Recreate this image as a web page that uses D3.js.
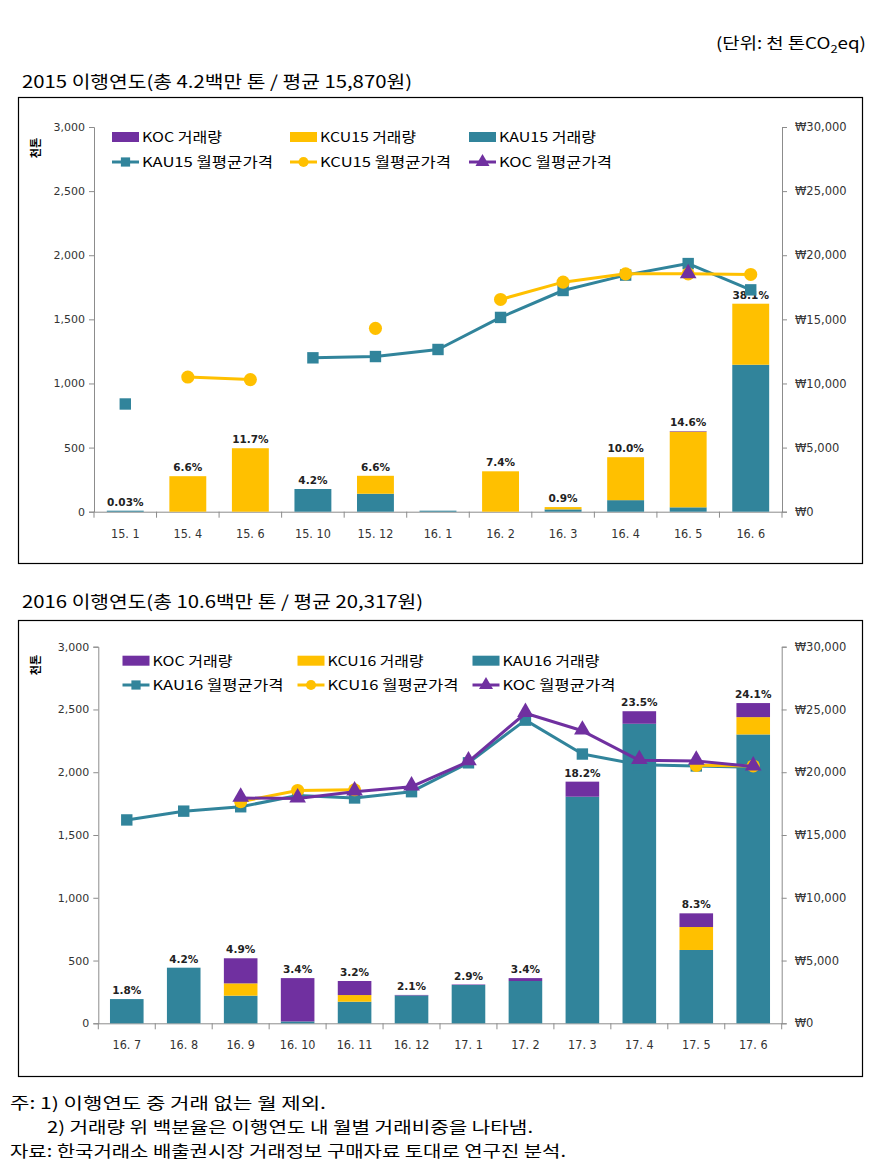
<!DOCTYPE html>
<html><head><meta charset="utf-8">
<script src="https://cdn.jsdelivr.net/npm/d3@7"></script>
<style>
body{margin:0;background:#fff;}
svg{display:block;}
</style></head>
<body>
<svg id="c" width="875" height="1170"></svg>
<script>
// ---------- DATA ----------
const unitText = ["(단위: 천 톤CO", "2", "eq)"];
const title15 = "2015 이행연도(총 4.2백만 톤 / 평균 15,870원)";
const title16 = "2016 이행연도(총 10.6백만 톤 / 평균 20,317원)";
const yLabel = "천톤";
const volTicks = [0,500,1000,1500,2000,2500,3000];
const priceTicks = [0,5000,10000,15000,20000,25000,30000];

const cats15 = ["15. 1","15. 4","15. 6","15. 10","15. 12","16. 1","16. 2","16. 3","16. 4","16. 5","16. 6"];
const kau15Vol = [8,0,0,177,140,8,0,18,90,34,1146];
const kcu15Vol = [0,277,495,0,140,0,315,18,335,590,476];
const koc15Vol = [0,0,0,0,0,0,0,0,0,4,0];
const share15 = ["0.03%","6.6%","11.7%","4.2%","6.6%",null,"7.4%","0.9%","10.0%","14.6%","38.1%"];
const kau15Price = [8400,null,null,12000,12100,12650,15150,17250,18450,19350,17300];
const kcu15Price = [null,10500,10300,null,14300,null,16550,17900,18550,18550,18500];
const koc15Price = [null,null,null,null,null,null,null,null,null,18500,null];
const legend15 = ["KOC 거래량","KCU15 거래량","KAU15 거래량","KAU15 월평균가격","KCU15 월평균가격","KOC 월평균가격"];

const cats16 = ["16. 7","16. 8","16. 9","16. 10","16. 11","16. 12","17. 1","17. 2","17. 3","17. 4","17. 5","17. 6"];
const kau16Vol = [193,443,220,15,172,222,305,337,1805,2386,584,2301];
const kcu16Vol = [0,0,98,0,53,0,0,0,0,0,183,138];
const koc16Vol = [0,0,200,345,112,4,4,23,120,100,109,112];
const share16 = ["1.8%","4.2%","4.9%","3.4%","3.2%","2.1%","2.9%","3.4%","18.2%","23.5%","8.3%","24.1%"];
const kau16Price = [16200,16900,17250,18150,17950,18450,20750,24150,21450,20600,20500,20400];
const kcu16Price = [null,null,17650,18550,18600,null,null,null,null,null,20550,20500];
const koc16Price = [null,null,17950,17900,18450,18850,20850,24700,23300,20950,20900,20450];
const legend16 = ["KOC 거래량","KCU16 거래량","KAU16 거래량","KAU16 월평균가격","KCU16 월평균가격","KOC 월평균가격"];

const notes = ["주: 1) 이행연도 중 거래 없는 월 제외.",
               "2) 거래량 위 백분율은 이행연도 내 월별 거래비중을 나타냄.",
               "자료: 한국거래소 배출권시장 거래정보 구매자료 토대로 연구진 분석."];

// ---------- STYLE ----------
const C_KAU = "#31849B", C_KCU = "#FFC000", C_KOC = "#7030A0";
const FONT_KR = "'Noto Sans CJK KR','Noto Sans',sans-serif";
const FONT_NUM = "'DejaVu Sans',sans-serif";
const FONT_COND = "'DejaVu Sans Condensed','DejaVu Sans',sans-serif";
const AXIS_C = "#8c8c8c";

const svg = d3.select("#c");
svg.append("rect").attr("width",875).attr("height",1170).attr("fill","#fff");

// unit text
const ut = svg.append("text").attr("x",716).attr("y",49)
  .attr("font-family",FONT_KR).attr("font-size",16).attr("fill","#000")
  .attr("textLength",150).attr("lengthAdjust","spacingAndGlyphs");
ut.append("tspan").text(unitText[0]);
ut.append("tspan").attr("font-size",11).attr("dy",4).text(unitText[1]);
ut.append("tspan").attr("dy",-4).text(unitText[2]);

function drawChart(cfg){
  const g = svg.append("g");
  // title
  g.append("text").attr("x",22).attr("y",cfg.titleY)
    .attr("font-family",FONT_KR).attr("font-size",17).attr("fill","#000")
    .attr("textLength",cfg.titleLen).attr("lengthAdjust","spacingAndGlyphs")
    .text(cfg.title);
  // box
  g.append("rect").attr("x",18.5).attr("y",cfg.boxTop+0.5).attr("width",844)
    .attr("height",cfg.boxBottom-cfg.boxTop).attr("fill","none").attr("stroke","#000").attr("stroke-width",1.2);

  const x = d3.scaleBand().domain(cfg.cats).range([cfg.left,cfg.right])
    .paddingInner(0.41).paddingOuter(0.205);
  const yV = d3.scaleLinear().domain([0,3000]).range([cfg.bottom,cfg.top]);
  const yP = d3.scaleLinear().domain([0,30000]).range([cfg.bottom,cfg.top]);

  // axes
  const axL = g.append("g").attr("transform",`translate(${cfg.left},0)`)
    .call(d3.axisLeft(yV).tickValues(volTicks).tickFormat(d3.format(",")).tickSize(5).tickPadding(4));
  const axR = g.append("g").attr("transform",`translate(${cfg.right},0)`)
    .call(d3.axisRight(yP).tickValues(priceTicks).tickFormat(d=>"₩"+d3.format(",")(d)).tickSize(5).tickPadding(8));
  const axB = g.append("g").attr("transform",`translate(0,${cfg.bottom})`)
    .call(d3.axisBottom(x).tickSize(0).tickPadding(17));
  [axL,axR,axB].forEach(a=>{
    a.selectAll("path,line").attr("stroke",AXIS_C);
    a.selectAll("text").attr("fill","#333");
  });
  axL.selectAll("text").attr("font-family",FONT_NUM).attr("font-size",11);
  axR.selectAll("text").attr("font-family",FONT_NUM).attr("font-size",11.5);
  axB.selectAll("text").attr("font-family",FONT_COND).attr("font-size",12.5);
  // boundary ticks on x axis
  const step = x.step();
  const bounds = d3.range(cfg.cats.length+1).map(i=>x(cfg.cats[0]) - x.paddingOuter()*step + i*step);
  g.append("g").selectAll("line").data(bounds).join("line")
    .attr("x1",d=>d).attr("x2",d=>d).attr("y1",cfg.bottom).attr("y2",cfg.bottom+6)
    .attr("stroke",AXIS_C);

  // y label
  g.append("text").attr("transform",`translate(${cfg.yLabX},${cfg.yLabY}) rotate(-90)`)
    .attr("text-anchor","middle").attr("font-family",FONT_KR).attr("font-size",11).attr("font-weight","bold")
    .attr("fill","#000").text(yLabel);

  // stacked bars
  const rows = cfg.cats.map((c,i)=>({cat:c,KAU:cfg.kau[i],KCU:cfg.kcu[i],KOC:cfg.koc[i],share:cfg.share[i]}));
  const stack = d3.stack().keys(["KAU","KCU","KOC"])(rows);
  const colors = {KAU:C_KAU,KCU:C_KCU,KOC:C_KOC};
  g.append("g").selectAll("g").data(stack).join("g").attr("fill",d=>colors[d.key])
    .selectAll("rect").data(d=>d).join("rect")
    .attr("x",d=>x(d.data.cat)).attr("width",x.bandwidth())
    .attr("y",d=>yV(d[1])).attr("height",d=>Math.max(0,yV(d[0])-yV(d[1])));

  // share labels
  g.append("g").selectAll("text").data(rows.filter(r=>r.share)).join("text")
    .attr("x",d=>x(d.cat)+x.bandwidth()/2)
    .attr("y",d=>yV(d.KAU+d.KCU+d.KOC)-5)
    .attr("text-anchor","middle").attr("font-family",FONT_NUM).attr("font-weight","bold")
    .attr("font-size",10.5).attr("fill","#222").text(d=>d.share);

  // lines
  const cx = i=>x(cfg.cats[i])+x.bandwidth()/2;
  const line = d3.line().defined(d=>d.v!=null).x(d=>cx(d.i)).y(d=>yP(d.v));
  const series = [
    {vals:cfg.kauP,color:C_KAU,m:"square"},
    {vals:cfg.kcuP,color:C_KCU,m:"circle"},
    {vals:cfg.kocP,color:C_KOC,m:"triangle"}
  ];
  series.forEach(s=>{
    const pts = s.vals.map((v,i)=>({v,i}));
    g.append("path").datum(pts).attr("d",line).attr("fill","none")
      .attr("stroke",s.color).attr("stroke-width",3).attr("stroke-linejoin","round");
    const sym = s.m==="square"?d3.symbolSquare:(s.m==="circle"?d3.symbolCircle:d3.symbolTriangle);
    const size = s.m==="square"?130:(s.m==="circle"?135:120);
    g.append("g").selectAll("path").data(pts.filter(p=>p.v!=null)).join("path")
      .attr("transform",p=>`translate(${cx(p.i)},${yP(p.v)+(s.m==="triangle"?-1:0)})`)
      .attr("d",d3.symbol().type(sym).size(size)).attr("fill",s.color);
  });

  // legend
  const L = cfg.legend;
  const lg = g.append("g").attr("font-family",FONT_KR).attr("font-size",13.5).attr("fill","#000");
  const rowY = cfg.legY;
  const colsX = cfg.legX;
  const swatchCols = [C_KOC,C_KCU,C_KAU];
  for(let k=0;k<3;k++){
    lg.append("rect").attr("x",colsX[k]).attr("y",rowY[0]-5).attr("width",27).attr("height",10).attr("fill",swatchCols[k]);
    lg.append("text").attr("x",colsX[k]+30).attr("y",rowY[0]+5).attr("textLength",cfg.legLen[k])
      .attr("lengthAdjust","spacingAndGlyphs").text(L[k]);
  }
  const lineCols = [C_KAU,C_KCU,C_KOC];
  const lineSyms = [d3.symbolSquare,d3.symbolCircle,d3.symbolTriangle];
  for(let k=0;k<3;k++){
    lg.append("line").attr("x1",colsX[k]).attr("x2",colsX[k]+27).attr("y1",rowY[1]).attr("y2",rowY[1])
      .attr("stroke",lineCols[k]).attr("stroke-width",3);
    lg.append("path").attr("transform",`translate(${colsX[k]+13.5},${rowY[1]})`)
      .attr("d",d3.symbol().type(lineSyms[k]).size(k===1?80:85)).attr("fill",lineCols[k]);
    lg.append("text").attr("x",colsX[k]+30).attr("y",rowY[1]+5).attr("textLength",cfg.legLen[k+3])
      .attr("lengthAdjust","spacingAndGlyphs").text(L[k+3]);
  }
}

drawChart({
  title:title15, titleY:88, titleLen:390, boxTop:97, boxBottom:563,
  left:94, right:782, top:127, bottom:511.7, yLabX:40, yLabY:148,
  cats:cats15, kau:kau15Vol, kcu:kcu15Vol, koc:koc15Vol, share:share15,
  kauP:kau15Price, kcuP:kcu15Price, kocP:koc15Price,
  legend:legend15, legY:[137,162], legX:[112,290,469], legLen:[80,96,97,131,131,113]
});
drawChart({
  title:title16, titleY:608, titleLen:401, boxTop:620, boxBottom:1076,
  left:98.3, right:781.7, top:646.7, bottom:1023.3, yLabX:40, yLabY:665,
  cats:cats16, kau:kau16Vol, kcu:kcu16Vol, koc:koc16Vol, share:share16,
  kauP:kau16Price, kcuP:kcu16Price, kocP:koc16Price,
  legend:legend16, legY:[660.7,685], legX:[122.5,297.5,472.5], legLen:[80,96,97,131,131,113]
});

// notes
const noteX = [10,47,10], noteY = [1109,1133,1157], noteLen = [316,486,556];
svg.append("g").selectAll("text").data(notes).join("text")
  .attr("x",(d,i)=>noteX[i]).attr("y",(d,i)=>noteY[i])
  .attr("font-family",FONT_KR).attr("font-size",16).attr("fill","#000")
  .attr("textLength",(d,i)=>noteLen[i]).attr("lengthAdjust","spacingAndGlyphs")
  .text(d=>d);
</script>
</body></html>
